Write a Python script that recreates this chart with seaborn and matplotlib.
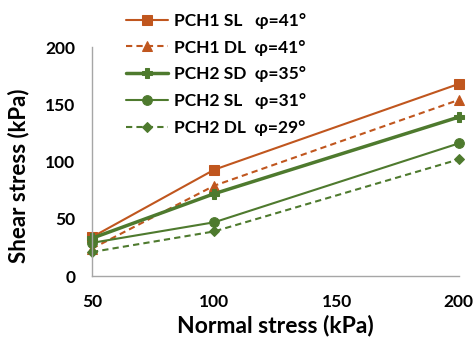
import matplotlib
matplotlib.use("Agg")
import matplotlib.pyplot as plt
import seaborn as sns
import pandas as pd

normal_stress = [50, 100, 200]
pch1_sl = [34, 93, 168]
pch1_dl = [24, 79, 154]
pch2_sd = [33, 72, 139]
pch2_sl = [29, 47, 116]
pch2_dl = [21, 39, 102]

labels = ["PCH1 SL   \u03c6=41\u00b0", "PCH1 DL  \u03c6=41\u00b0", "PCH2 SD  \u03c6=35\u00b0",
          "PCH2 SL   \u03c6=31\u00b0", "PCH2 DL  \u03c6=29\u00b0"]
series = [pch1_sl, pch1_dl, pch2_sd, pch2_sl, pch2_dl]

orange = "#C0561E"
green = "#4E7A2E"
styles = [
    dict(color=orange, marker="s", linestyle="-", lw=1.5, ms=6.5),
    dict(color=orange, marker="^", linestyle=(0, (3, 2)), lw=1.5, ms=7),
    dict(color=green, marker="P", linestyle="-", lw=2.5, ms=7),
    dict(color=green, marker="o", linestyle="-", lw=1.5, ms=7),
    dict(color=green, marker="D", linestyle=(0, (3, 2)), lw=1.5, ms=5.5),
]

sns.set_style("white")
plt.rcParams["font.family"] = ["Lato", "DejaVu Sans"]
plt.rcParams["font.weight"] = "bold"
plt.rcParams["text.color"] = "black"
plt.rcParams["axes.labelcolor"] = "black"
plt.rcParams["xtick.labelcolor"] = "black"
plt.rcParams["ytick.labelcolor"] = "black"

fig = plt.figure(figsize=(4.73, 3.38), dpi=100)
ax = fig.add_axes([0.1945, 0.1834, 0.7755, 0.6766])

for vals, lab, st in zip(series, labels, styles):
    df = pd.DataFrame({"x": normal_stress, "y": vals})
    sns.lineplot(data=df, x="x", y="y", ax=ax, color=st["color"], marker=st["marker"],
                 linestyle=st["linestyle"], linewidth=st["lw"], markersize=st["ms"],
                 markeredgecolor=st["color"], label=lab, clip_on=False)

ax.set_xlim(50, 200)
ax.set_ylim(0, 200)
ax.set_xticks([50, 100, 150, 200])
ax.set_yticks([0, 50, 100, 150, 200])
for s in ["top", "right"]:
    ax.spines[s].set_visible(False)
for s in ["left", "bottom"]:
    ax.spines[s].set_color("#A6A6A6")
    ax.spines[s].set_linewidth(1)
ax.tick_params(axis="both", direction="in", length=6, color="#A6A6A6", labelsize=12.5)
ax.tick_params(axis="x", pad=13)
ax.tick_params(axis="y", pad=12)
ax.set_xlabel("Normal stress (kPa)", fontsize=16.5, fontweight="bold", labelpad=3)
ax.set_ylabel("Shear stress (kPa)", fontsize=16, fontweight="bold")
ax.yaxis.set_label_coords(-0.17, 0.44)

ax.get_legend().remove()
handles, labs = ax.get_legend_handles_labels()
leg = fig.legend(handles, labs, loc="upper left", bbox_to_anchor=(0.245, 0.993),
                 frameon=False, prop={"weight": "bold", "size": 12.5},
                 handlelength=2.4, handletextpad=0.35, labelspacing=0.62, borderaxespad=0.2)

fig.savefig("out.png", dpi=100)
